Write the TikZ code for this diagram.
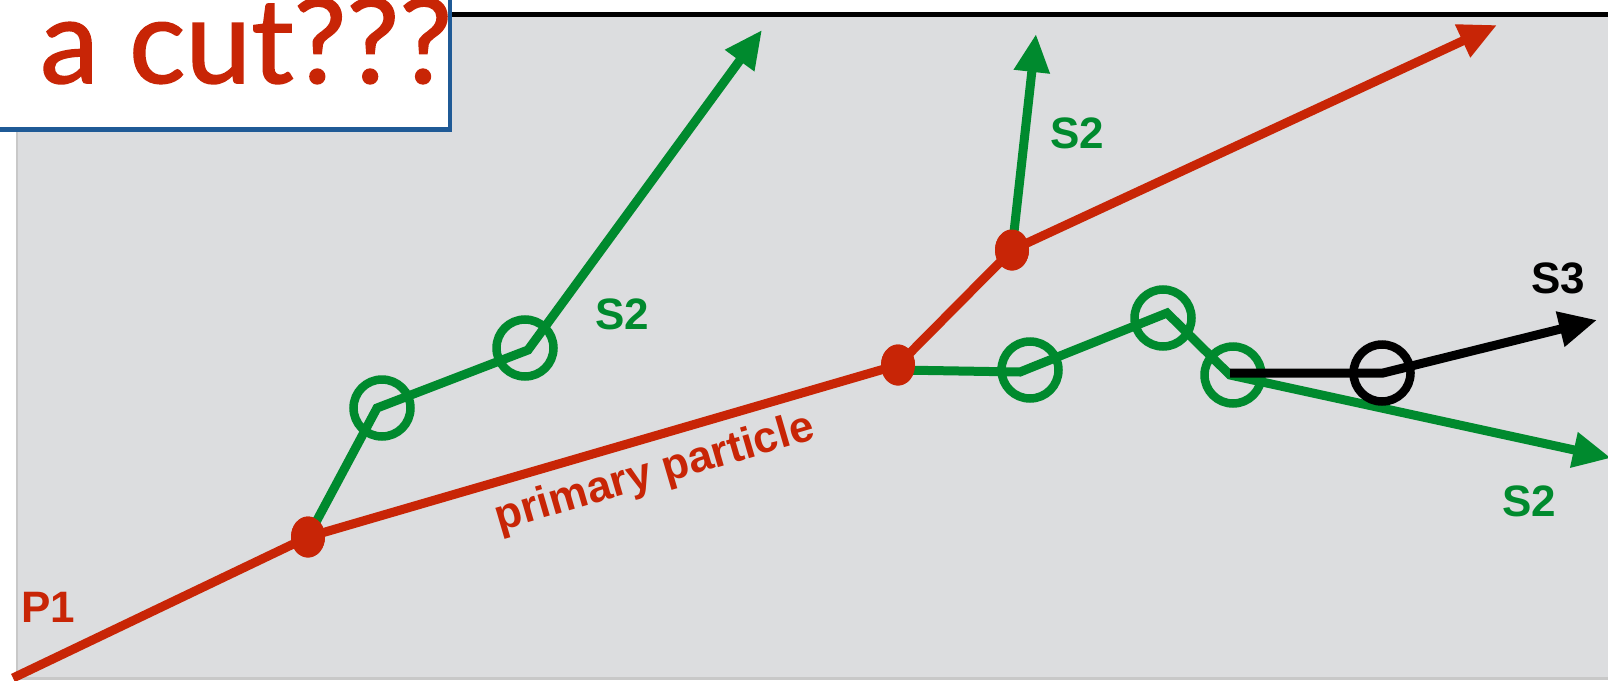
\documentclass[tikz,border=0pt]{standalone}
\usepackage{fontspec}
\setmainfont{Liberation Sans}
\newfontfamily\titlefont[FakeBold=1.3]{Lato}
\usetikzlibrary{arrows.meta,shapes.geometric}
\definecolor{cred}{HTML}{C82506}
\definecolor{cgreen}{HTML}{008A2E}
\definecolor{cgray}{HTML}{DCDDDF}
\definecolor{cblue}{HTML}{1F5A96}
\definecolor{cedge}{HTML}{C8C8C8}
\tikzset{
  trk/.style={line width=9pt, line join=miter, -{Triangle[length=38pt,width=34pt]}},
  rdot/.style={ellipse, fill=cred, minimum width=34pt, minimum height=41pt, inner sep=0pt},
  ring/.style={circle, draw=#1, line width=8.5pt, minimum size=57pt, inner sep=0pt},
  lab/.style={font=\bfseries\fontsize{44}{44}\selectfont, inner sep=0pt},
}
\begin{document}
\begin{tikzpicture}[x=1pt,y=-1pt]
\useasboundingbox (0,0) rectangle (1608,680);
\clip (0,0) rectangle (1608,680);
% background
\fill[white] (0,0) rectangle (1608,680);
\fill[cedge] (16,17) rectangle (1608,680);
\fill[cgray] (18,17) rectangle (1608,677);
\fill[black] (440,11.5) rectangle (1608,16.5);
% coordinates
\coordinate (start) at (13,678);
\node[rdot] (A) at (308,537) {};
\node[rdot] (B) at (898,365) {};
\node[rdot] (C) at (1012,250) {};
\coordinate (redtip) at (1497,25);
\coordinate (g1a) at (377,408);
\coordinate (g1b) at (528,350);
\coordinate (g1tip) at (762,30);
\coordinate (g2tip) at (1036,34);
\coordinate (Bg) at (898,370);
\coordinate (g3a) at (1020,372);
\coordinate (g3b) at (1167,313);
\coordinate (g3c) at (1230,375);
\coordinate (g3tip) at (1611,458);
\coordinate (kst) at (1230,373);
\coordinate (k1) at (1383,373);
\coordinate (ktip) at (1597,320);
% red primary
\draw[trk, cred] (start) -- (A.center) -- (B.center) -- (C.center) -- (redtip);
% green tracks
\draw[trk, cgreen] (A.center) -- (g1a) -- (g1b) -- (g1tip);
\draw[trk, cgreen] (C.center) -- (g2tip);
\draw[trk, cgreen] (Bg) -- (g3a) -- (g3b) -- (g3c) -- (g3tip);
\node[ring=cgreen] (r1) at (382,408) {};
\node[ring=cgreen] (r2) at (525,348) {};
\node[ring=cgreen] (r3) at (1030,370) {};
\node[ring=cgreen] (r4) at (1163,318) {};
\node[ring=cgreen] (r5) at (1233,375) {};
% black track
\draw[trk, black] (kst) -- (k1) -- (ktip);
\node[ring=black] (r6) at (1382,373) {};
% dots on top
\node[rdot] at (A) {};
\node[rdot] at (B) {};
\node[rdot] at (C) {};
% labels
\node[lab, text=cred] (P1) at (48,607) {P1};
\node[lab, text=cred, rotate=16.3] (pp) at (655,474) {primary particle};
\node[lab, text=cgreen] (S2a) at (622,314) {S2};
\node[lab, text=cgreen] (S2b) at (1077,133) {S2};
\node[lab, text=black] (S3) at (1558,278) {S3};
\node[lab, text=cgreen] (S2c) at (1529,501) {S2};
% title box
\draw[cblue, line width=4.5pt, fill=white] (-10,-10) rectangle (450,129.5);
\node[anchor=base west, inner sep=0pt, text=cred, font=\titlefont\fontsize{118}{118}\selectfont] (title) at (40,83) {a cut???};
\end{tikzpicture}
\end{document}
